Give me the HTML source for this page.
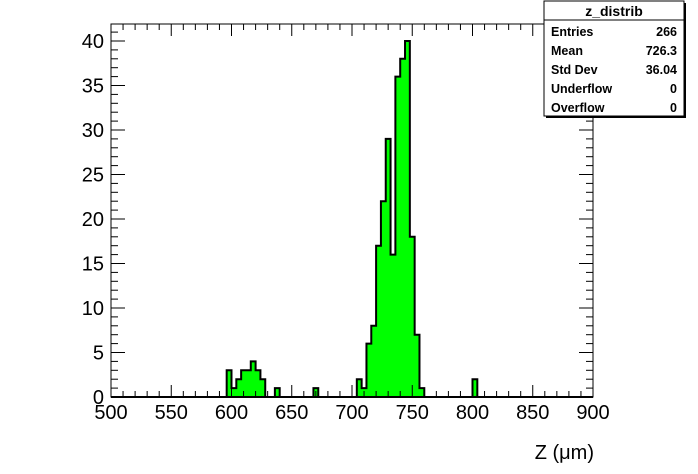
<!DOCTYPE html>
<html><head><meta charset="utf-8"><style>
body{margin:0;background:#fff;width:698px;height:474px;overflow:hidden}
svg{display:block;font-family:"Liberation Sans",sans-serif}
</style></head><body>
<svg id="c" width="698" height="474"></svg>
<script>
const binLow = 500, binWidth = 4;
const counts = new Array(100).fill(0);
const filled = {596:3,600:1,604:2,608:3,612:3,616:4,620:3,624:2,636:1,668:1,
704:2,708:1,712:6,716:8,720:17,724:22,728:29,732:16,736:36,740:38,744:40,748:18,752:7,756:1,800:2};
const xTicks = [500,550,600,650,700,750,800,850,900];
const yTicks = [0,5,10,15,20,25,30,35,40];
const statLabels = ["Entries","Mean","Std Dev","Underflow","Overflow"];
const statValues = ["266","726.3","36.04","0","0"];
for (const k in filled) counts[(k-binLow)/binWidth] = filled[k];

const L=111,R=593,T=24,B=397;
const X=v=>L+(v-500)*(R-L)/400;
const Y=v=>B-v*(B-41)/40;
const svg=document.getElementById('c');
const NS='http://www.w3.org/2000/svg';
function mk(t,a,p){const e=document.createElementNS(NS,t);for(const k in a)e.setAttribute(k,a[k]);(p||svg).appendChild(e);return e;}

let d='M'+X(binLow)+','+Y(0);
counts.forEach((c,i)=>{const x0=X(binLow+i*binWidth),x1=X(binLow+(i+1)*binWidth);d+=' L'+x0+','+Y(c)+' L'+x1+','+Y(c);});
d+=' L'+X(900)+','+Y(0)+' Z';
const h=mk('path',{d:d,fill:'#00ff00',stroke:'#000','stroke-width':2});



const f=mk('rect',{x:L,y:T,width:R-L,height:B-T,fill:'none',stroke:'#000','stroke-width':1});


mk('line',{x1:L,y1:B,x2:R,y2:B,stroke:'#000','stroke-width':2});

for(let v=500;v<=900;v+=10){const big=v%50===0;const x=X(v);const len=big?12:6;
 mk('line',{x1:x,y1:B,x2:x,y2:B-len,stroke:'#000'});mk('line',{x1:x,y1:T,x2:x,y2:T+len,stroke:'#000'});}
xTicks.forEach(v=>{const t=mk('text',{x:X(v),y:419,'font-size':20,'text-anchor':'middle'});t.textContent=v;
 
 });
for(let v=0;v<=41;v+=1){const big=v%5===0;const y=Y(v);const len=big?14:7;
 mk('line',{x1:L,y1:y,x2:L+len,y2:y,stroke:'#000'});mk('line',{x1:R,y1:y,x2:R-len,y2:y,stroke:'#000'});}
yTicks.forEach(v=>{const t=mk('text',{x:104,y:Y(v)+7,'font-size':20,'text-anchor':'end'});t.textContent=v;
 
 });
const xt=mk('text',{x:594,y:459,'font-size':20,'text-anchor':'end'});xt.textContent='Z (\u03bcm)';



const g=mk('g',{});


mk('rect',{x:546,y:3,width:140,height:115,fill:'#000'},g);
mk('rect',{x:544,y:1,width:140,height:115,fill:'#fff',stroke:'#000'},g);
mk('line',{x1:544,y1:20,x2:684,y2:20,stroke:'#000'},g);
const tt=mk('text',{x:614,y:16,'font-size':14,'font-weight':'bold','text-anchor':'middle'},g);tt.textContent='z_distrib';
statLabels.forEach((s,i)=>{const y=36+i*19;
 const a=mk('text',{x:551,y:y,'font-size':12.5,'font-weight':'bold'},g);a.textContent=s;
 const b=mk('text',{x:677,y:y,'font-size':12.5,'font-weight':'bold','text-anchor':'end'},g);b.textContent=statValues[i];});
</script>
</body></html>
